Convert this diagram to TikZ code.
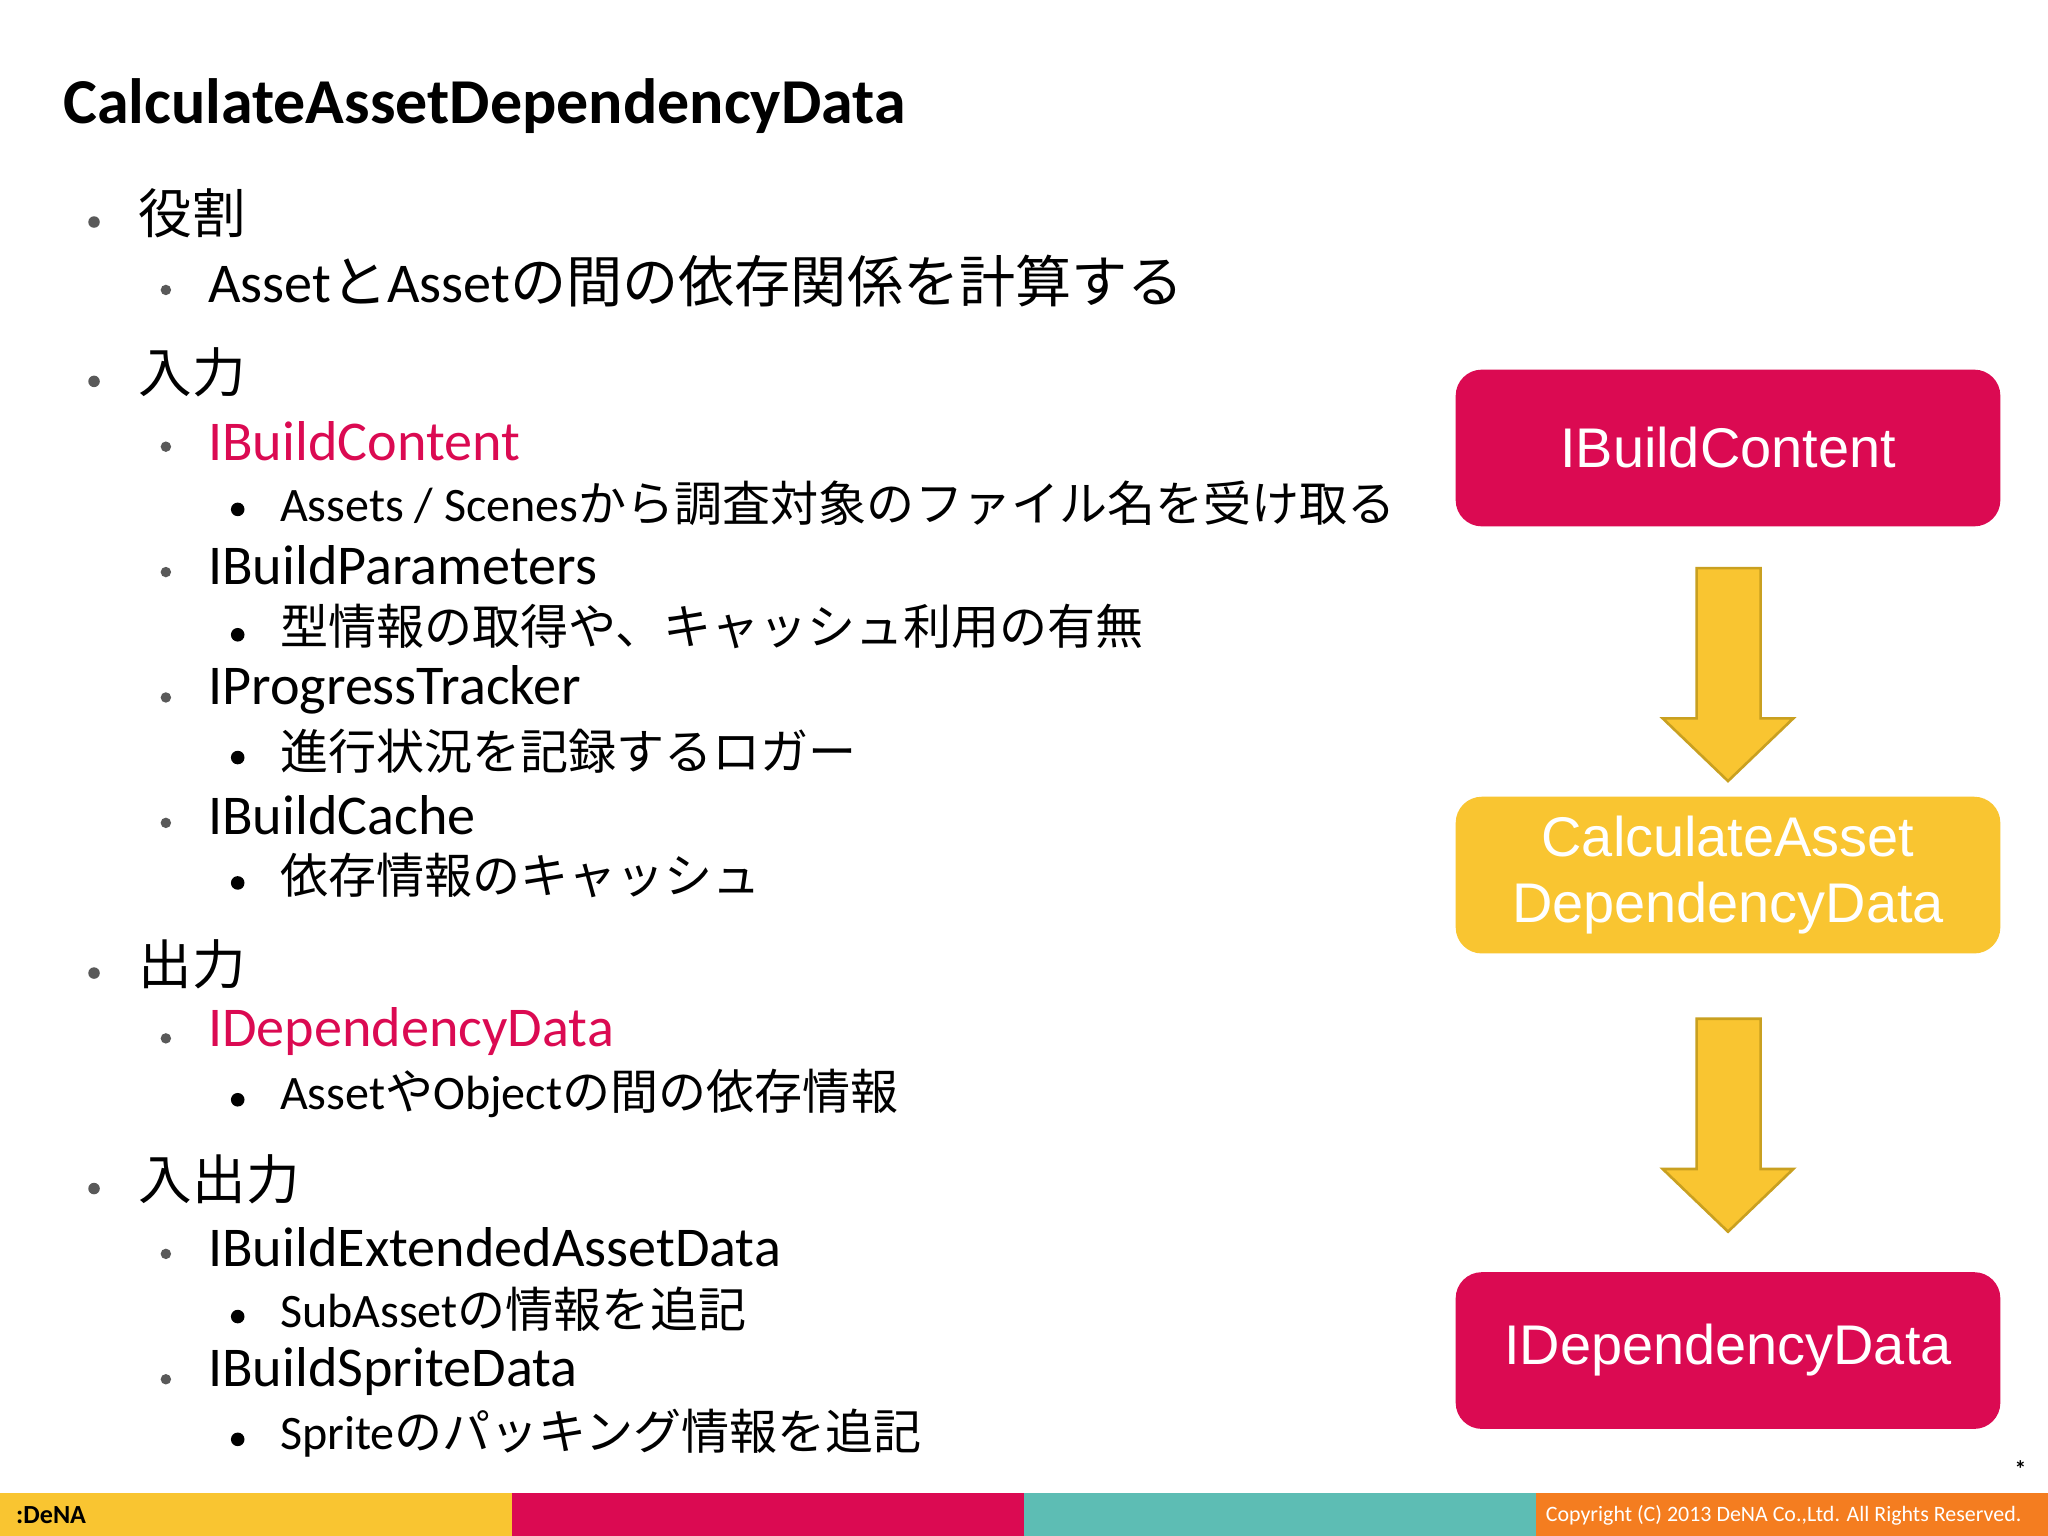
\documentclass[tikz,border=0pt]{standalone}
\usepackage{fontspec}
\setmainfont{Carlito}
\newfontfamily\cjk{Noto Sans CJK JP}
\newfontfamily\arl{Liberation Sans}
\definecolor{crim}{HTML}{DB0A52}
\definecolor{yel}{HTML}{F9C531}
\definecolor{yelb}{HTML}{C9A020}
\definecolor{teal}{HTML}{5DBDB4}
\definecolor{orng}{HTML}{F47D20}
\begin{document}
\begin{tikzpicture}[x=0.5pt,y=-0.5pt,
  lone/.style={anchor=west,inner sep=0pt,font=\fontsize{20.5}{24}\selectfont},
  ltwo/.style={anchor=west,inner sep=0pt,font=\fontsize{21.5}{25}\selectfont},
  lthree/.style={anchor=west,inner sep=0pt,font=\fontsize{18.4}{22}\selectfont},
  bbox/.style={rounded corners=10pt,minimum width=208.5pt,minimum height=60pt,font=\arl\fontsize{21.4}{26}\selectfont,text=white,align=center},
  bigarrow/.style={fill=yel,draw=yelb,line width=1pt}]
\useasboundingbox (0,0) rectangle (1568,1176);
\fill[white] (0,0) rectangle (1568,1176);
\node[anchor=west,inner sep=0pt,font=\bfseries\fontsize{24.5}{28}\selectfont] (title) at (48,81) {CalculateAssetDependencyData};
% bullets
\foreach \y in {170,292,745,910} \fill[gray!70!black] (72,\y) circle (2.2pt);
\foreach \y in {222,342,438,534,630,795,960,1056} \fill[gray!70!black] (127,\y) circle (2pt);
\foreach \y in {390,486,580,676,842,1008,1102} \fill[black] (182,\y) circle (2.6pt);
\node[lone] (a1) at (106,163) {\cjk 役割};
\node[ltwo] (a2) at (159,215) {Asset{\cjk と}Asset{\cjk の間の依存関係を計算する}};
\node[lone] (b1) at (106,285) {\cjk 入力};
\node[ltwo,text=crim] (b2) at (159,338) {IBuildContent};
\node[lthree] (b3) at (214,385) {Assets / Scenes{\cjk から調査対象のファイル名を受け取る}};
\node[ltwo] (b4) at (159,433) {IBuildParameters};
\node[lthree] (b5) at (214,480) {\cjk 型情報の取得や、キャッシュ利用の有無};
\node[ltwo] (b6) at (159,528) {IProgressTracker};
\node[lthree] (b7) at (214,575) {\cjk 進行状況を記録するロガー};
\node[ltwo] (b8) at (159,624) {IBuildCache};
\node[lthree] (b9) at (214,670) {\cjk 依存情報のキャッシュ};
\node[lone] (c1) at (106,738) {\cjk 出力};
\node[ltwo,text=crim] (c2) at (159,790) {IDependencyData};
\node[lthree] (c3) at (214,837) {Asset{\cjk や}Object{\cjk の間の依存情報}};
\node[lone] (d1) at (106,903) {\cjk 入出力};
\node[ltwo] (d2) at (159,955) {IBuildExtendedAssetData};
\node[lthree] (d3) at (214,1002) {SubAsset{\cjk の情報を追記}};
\node[ltwo] (d4) at (159,1050) {IBuildSpriteData};
\node[lthree] (d5) at (214,1097) {Sprite{\cjk のパッキング情報を追記}};
% boxes
\node[bbox,fill=crim] (bx1) at (1323,343) {IBuildContent};
\node[bbox,fill=yel] (bx2) at (1323,670) {\raisebox{-3pt}{CalculateAsset}\\[-1pt]\raisebox{-3pt}{DependencyData}};
\node[bbox,fill=crim] (bx3) at (1323,1034) {\raisebox{-2pt}{IDependencyData}};
% arrows
\draw[bigarrow] (1299,435) -- (1348,435) -- (1348,550) -- (1373,550) -- (1323,598) -- (1273,550) -- (1299,550) -- cycle;
\draw[bigarrow] (1299,780) -- (1348,780) -- (1348,895) -- (1373,895) -- (1323,943) -- (1273,895) -- (1299,895) -- cycle;
\node[font=\bfseries\fontsize{9}{9}\selectfont] (star) at (1547,1125) {*};
% bottom bar
\fill[yel] (0,1143) rectangle (392,1176);
\fill[crim] (392,1143) rectangle (784,1176);
\fill[teal] (784,1143) rectangle (1176,1176);
\fill[orng] (1176,1143) rectangle (1568,1176);
\node[anchor=west,inner sep=0pt,font=\bfseries\fontsize{10}{10}\selectfont] (logo) at (12,1160) {:DeNA};
\node[anchor=east,inner sep=0pt,text=white,font=\fontsize{8.4}{10}\selectfont] (copy) at (1548,1160) {Copyright (C) 2013 DeNA Co.,Ltd. All Rights Reserved.};
\end{tikzpicture}
\end{document}
